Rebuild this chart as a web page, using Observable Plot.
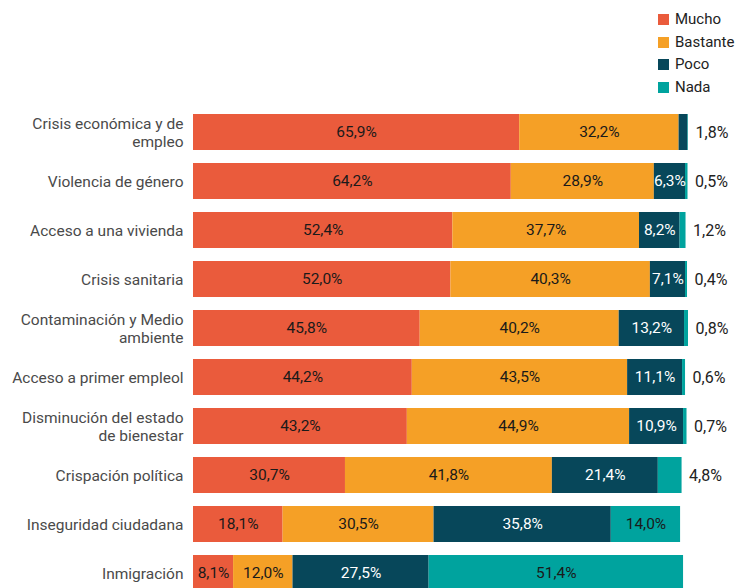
<!DOCTYPE html>
<html><head><meta charset="utf-8">
<script src="https://cdn.jsdelivr.net/npm/d3@7"></script>
<script src="https://cdn.jsdelivr.net/npm/@observablehq/plot@0.6"></script>
<style>
html,body{margin:0;padding:0;background:#fff}
body{width:737px;height:588px;overflow:hidden;position:relative;font-family:Roboto,sans-serif}
#legend{position:absolute;left:658px;top:8px;font-size:15px;color:#222;line-height:22.7px}
#legend div{display:flex;align-items:center;white-space:nowrap}
#legend span.sw{display:inline-block;width:11px;height:11px;margin-right:6px}
#chart{position:absolute;left:0;top:0}
</style></head>
<body>
<div id="legend"></div>
<div id="chart"></div>
<script>
const categories = ["Crisis económica y de empleo","Violencia de género","Acceso a una vivienda","Crisis sanitaria","Contaminación y Medio ambiente","Acceso a primer empleol","Disminución del estado de bienestar","Crispación política","Inseguridad ciudadana","Inmigración"];
const tickLabels = ["Crisis económica y de\nempleo","Violencia de género","Acceso a una vivienda","Crisis sanitaria","Contaminación y Medio\nambiente","Acceso a primer empleol","Disminución del estado\nde bienestar","Crispación política","Inseguridad ciudadana","Inmigración"];
const series = ["Mucho","Bastante","Poco","Nada"];
const colors = ["#EA5B3C","#F5A026","#07475A","#00A39E"];
const mucho    = [65.9, 64.2, 52.4, 52.0, 45.8, 44.2, 43.2, 30.7, 18.1, 8.1];
const bastante = [32.2, 28.9, 37.7, 40.3, 40.2, 43.5, 44.9, 41.8, 30.5, 12.0];
const poco     = [1.8, 6.3, 8.2, 7.1, 13.2, 11.1, 10.9, 21.4, 35.8, 27.5];
const nada     = [0.1, 0.5, 1.2, 0.4, 0.8, 0.6, 0.7, 4.8, 14.0, 51.4];
const outside  = [1.8, 0.5, 1.2, 0.4, 0.8, 0.6, 0.7, 4.8, null, null];

const fmt = v => v.toFixed(1).replace(".", ",") + "%";
const cols = [mucho, bastante, poco, nada];
const table = [];
categories.forEach((c, i) => series.forEach((s, j) => table.push({cat: c, series: s, value: cols[j][i]})));
const outs = categories.map((c, i) => ({cat: c, value: outside[i], total: mucho[i] + bastante[i] + poco[i] + nada[i]})).filter(d => d.value != null);

const lg = document.getElementById("legend");
series.forEach((s, j) => {
  const d = document.createElement("div");
  d.innerHTML = `<span class="sw" style="background:${colors[j]}"></span>${s}`;
  lg.appendChild(d);
});

const chart = Plot.plot({
  width: 737,
  height: 602,
  marginTop: 105,
  marginBottom: 2,
  marginLeft: 193,
  marginRight: 49,
  style: {fontFamily: "Roboto, sans-serif", fontSize: "15.5px", background: "transparent"},
  x: {domain: [0, 100], axis: null},
  y: {domain: categories, paddingInner: 0.273, paddingOuter: 0.1365, label: null},
  color: {domain: series, range: colors},
  marks: [
    Plot.barX(table, Plot.stackX({x: "value", y: "cat", fill: "series", z: "series"})),
    Plot.text(table, Plot.stackX({x: "value", y: "cat", z: "series",
      text: d => d.value >= 5 ? fmt(d.value) : "",
      fill: d => d.series === "Poco" ? "#ffffff" : "#1a1a1a",
      fontSize: 15.5})),
    Plot.text(outs, {x: "total", y: "cat", text: d => fmt(d.value), textAnchor: "start", dx: 7, fill: "#222", fontSize: 16}),
    Plot.axisY({tickSize: 0, tickPadding: 10, fontSize: 15.5, color: "#4a4a4a", lineHeight: 1.16,
      tickFormat: d => tickLabels[categories.indexOf(d)], label: null})
  ]
});
document.getElementById("chart").appendChild(chart);
</script>
</body></html>
